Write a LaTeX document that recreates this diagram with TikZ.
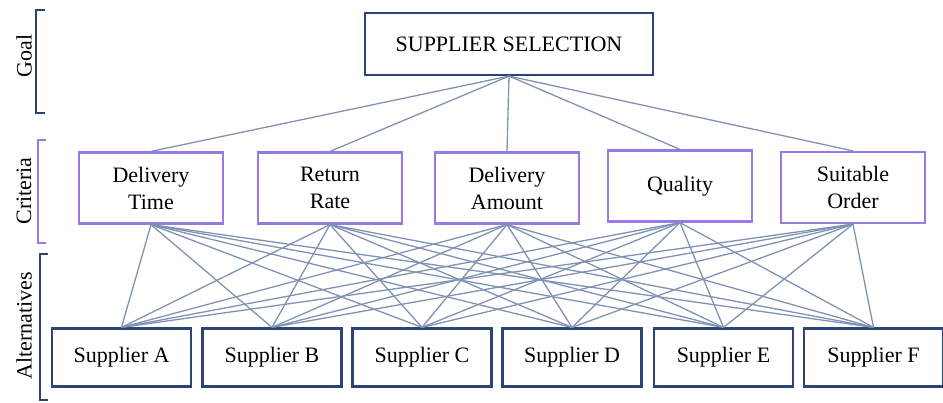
\documentclass[tikz,border=0pt]{standalone}
\usepackage{fontspec}
\setmainfont{Liberation Serif}
\definecolor{linec}{RGB}{128,146,180}
\definecolor{purp}{RGB}{152,122,228}
\definecolor{dblue}{RGB}{42,68,118}
\begin{document}
\begin{tikzpicture}[x=1pt,y=-1pt,
  every node/.style={font=\fontsize{22}{27}\selectfont, align=center, inner sep=0pt},
  goalbox/.style={draw=dblue, line width=2.2pt, minimum width=288pt, minimum height=62pt},
  critbox/.style={draw=purp, line width=2.2pt, minimum width=144pt, minimum height=71pt},
  altbox/.style={draw=dblue, line width=2.2pt, minimum width=139pt, minimum height=58pt},
  conn/.style={draw=linec, line width=1.3pt},
  brk/.style={line width=1.6pt}]
\useasboundingbox (0,0) rectangle (943,403);
% brackets and labels
\draw[brk, dblue] (45,10) -- (36,10) -- (36,113) -- (45,113);
\draw[brk, purp] (46,140) -- (38,140) -- (38,243) -- (46,243);
\draw[brk, dblue] (48,254) -- (40,254) -- (40,400) -- (48,400);
\node[rotate=90] (lgoal) at (24,56) {Goal};
\node[rotate=90] (lcrit) at (24,191) {Criteria};
\node[rotate=90] (lalt) at (24,326) {Alternatives};
% nodes
\node[goalbox] (g) at (509,44) {SUPPLIER SELECTION};
\node[critbox] (c1) at (151,188) {Delivery\\Time};
\node[critbox] (c2) at (330,188) {Return\\Rate};
\node[critbox] (c3) at (507,188) {Delivery\\Amount};
\node[critbox] (c4) at (680,186) {Quality};
\node[critbox] (c5) at (853,187.5) {Suitable\\Order};
\node[altbox] (a1) at (121.5,357.5) {Supplier A};
\node[altbox] (a2) at (272,357.5) {Supplier B};
\node[altbox] (a3) at (422,357.5) {Supplier C};
\node[altbox] (a4) at (572,357.5) {Supplier D};
\node[altbox] (a5) at (723.5,357.5) {Supplier E};
\node[altbox] (a6) at (873.5,357.5) {Supplier F};
% connectors
\foreach \c in {c1,c2,c3,c4,c5} {
  \draw[conn] (g.south) -- (\c.north);
  \foreach \a in {a1,a2,a3,a4,a5,a6} {
    \draw[conn] (\c.south) -- (\a.north);
  }
}
\end{tikzpicture}
\end{document}
